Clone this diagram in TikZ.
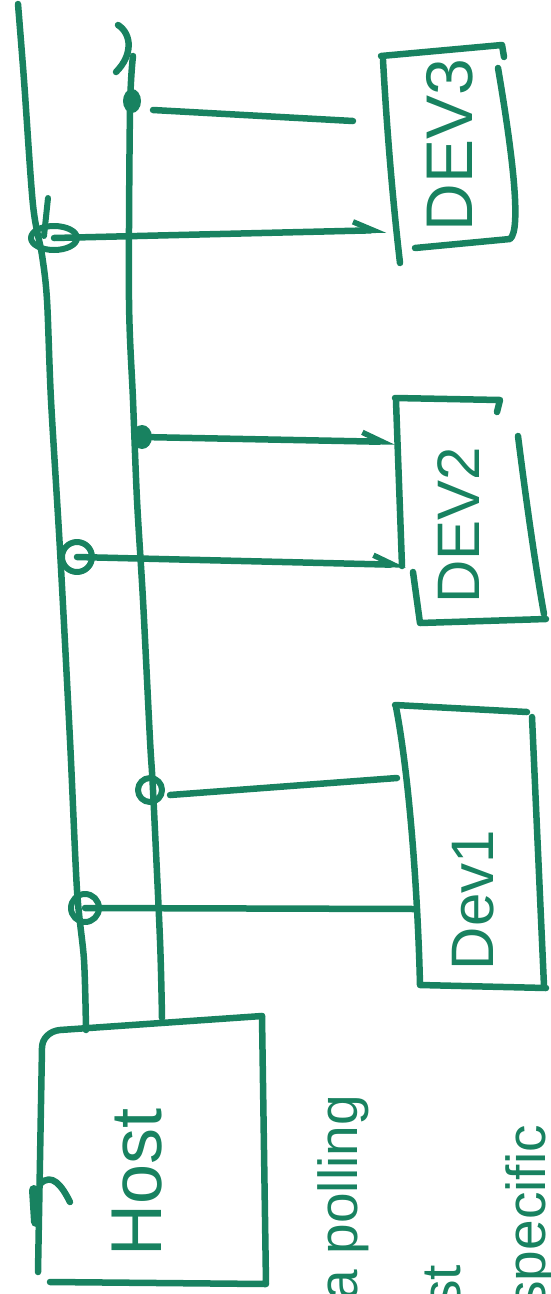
\documentclass[tikz,border=0pt]{standalone}
\usepackage{fontspec}
\newfontfamily\handfont{Liberation Sans}
\usepackage{tikz}
\usetikzlibrary{arrows.meta}
\definecolor{ink}{RGB}{24,130,96}
\tikzset{
  pen/.style    ={draw=ink,line width=6.5pt,line cap=round,line join=round},
  bus/.style    ={pen},
  link/.style   ={pen},
  linktip/.style={pen,-{Straight Barb[left,length=20pt,width=18pt,line width=5.5pt]}},
  devbox/.style ={pen},
  knot/.style   ={pen,line width=6pt},
  blob/.style   ={fill=ink,draw=none},
  lbl/.style    ={text=ink,rotate=90,inner sep=0pt,font=\handfont},
}

\begin{document}
\begin{tikzpicture}[x=1pt,y=-1pt]
  \useasboundingbox (0,0) rectangle (551,1294);
  \clip (0,0) rectangle (551,1294);
  % junctions on the two bus lines (A = outer, B = inner)
  \coordinate (a3) at (54,238);
  \coordinate (a2) at (77,557);
  \coordinate (a1) at (85,908);
  \coordinate (b3) at (132,101);
  \coordinate (b2) at (142,437);
  \coordinate (b1) at (150,790);
  % free ends of the links
  \coordinate (s3) at (153,110);  \coordinate (e3a) at (353,121);
  \coordinate (e3b) at (386,230);
  \coordinate (e2a) at (395,442);
  \coordinate (e2b) at (406,565);
  \coordinate (s1) at (170,795);  \coordinate (e1a) at (397,778);
  \coordinate (e1b) at (416,909);

  % bus lines down into the host
  \draw[bus] plot[smooth,tension=0.5] coordinates {(18,4) (24,80) (33,205) (42,255)
        (47,300) (51,400) (60,550) (70,740) (77,890) (84,960) (86,1030)};
  \draw[bus] plot[smooth,tension=0.5] coordinates {(133,56) (130,110) (129,300)
        (133,400) (137,500) (143,600) (150,740) (153,790) (160,940) (162,1018)};
  \draw[pen] (118,25) .. controls (132,34) and (133,55) .. (116,72);

  % knots and blobs where the links leave the buses
  \draw[knot] (a3) ellipse[x radius=23,y radius=12];
  \draw[knot] (48,198) -- (44,236);
  \foreach \p/\r in {a2/15, b1/12, a1/14}
    \draw[knot] (\p) circle[radius=\r];
  \fill[blob] (b3) ellipse[x radius=9,y radius=12];
  \fill[blob] (b2) ellipse[x radius=10,y radius=12];

  % links to the devices
  \draw[link] (s3) -- (e3a);
  \draw[linktip] (a3) -- (e3b);
  \draw[linktip] (b2) -- (e2a);
  \draw[linktip] (a2) -- (e2b);
  \draw[link] (s1) -- (e1a);
  \draw[link] (a1) -- (e1b);

  % DEV3
  \draw[devbox] (381,56) -- (502,45) -- (504,57);
  \draw[devbox] (383,60) .. controls (388,150) and (395,220) .. (400,263);
  \draw[devbox] (498,68) .. controls (512,150) and (522,230) .. (510,239) -- (415,248);
  \node[lbl,font=\handfont\fontsize{66}{66}\selectfont] (dev3) at (450,145) {DEV3};

  % DEV2
  \draw[devbox] (395,398) -- (500,400) -- (497,412);
  \draw[devbox] (396,401) -- (402,566);
  \draw[devbox] (413,572) -- (420,623) -- (546,619);
  \draw[devbox] (518,436) .. controls (526,500) and (536,570) .. (544,614);
  \node[lbl,font=\handfont\fontsize{60}{60}\selectfont] (dev2) at (459,525) {DEV2};

  % DEV1
  \draw[devbox] (395,705) -- (527,712);
  \draw[devbox] (396,707) .. controls (410,780) and (418,900) .. (420,985) -- (546,988);
  \draw[devbox] (532,717) -- (544,986);
  \node[lbl,font=\handfont\fontsize{60}{60}\selectfont] (dev1) at (473,900) {Dev1};

  % host
  \draw[devbox] (262,1016) -- (60,1030) to[out=185,in=90] (42,1048) -- (38,1272);
  \draw[devbox] (262,1016) -- (266,1284) -- (50,1282);
  \draw[pen] (40,1184) .. controls (52,1172) and (62,1186) .. (70,1202);
  \draw[pen,line width=10pt] (34,1190) -- (36,1222);
  \node[lbl,font=\handfont\fontsize{72}{72}\selectfont] (host) at (137,1182) {Host};

  % notes running off the page
  \node[lbl,font=\handfont\fontsize{55}{55}\selectfont,anchor=base east]
        (note1) at (357,1095) {a polling};
  \node[lbl,font=\handfont\fontsize{55}{55}\selectfont,anchor=base east]
        (note2) at (460,1265) {st};
  \node[lbl,font=\handfont\fontsize{55}{55}\selectfont,anchor=base east]
        (note3) at (545,1125) {specific};
\end{tikzpicture}
\end{document}
